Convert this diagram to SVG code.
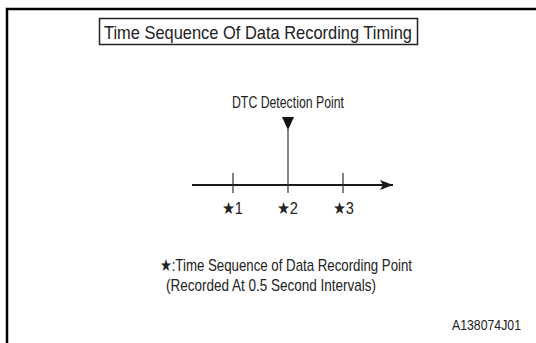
<svg xmlns="http://www.w3.org/2000/svg" width="536" height="343" viewBox="0 0 536 343">
  <style>
    text { font-family: "Liberation Sans", Arial, sans-serif; fill: #222; }
    .ttl { font-size: 19px; }
    .lbl { font-size: 17px; }
    .code { font-size: 14px; }
    .frame { fill: none; stroke: #000; stroke-width: 2.5; }
    .thin { stroke: #333; stroke-width: 1.2; fill: none; }
    .axis { stroke: #1a1a1a; stroke-width: 2.2; fill: none; }
  </style>
  <defs>
    <marker id="arrow" viewBox="0 0 13 10" refX="13" refY="5" markerWidth="13" markerHeight="10" markerUnits="userSpaceOnUse" orient="auto">
      <path d="M0,0 L13,5 L0,10 L3,5 Z" fill="#1a1a1a"/>
    </marker>
  </defs>

  <!-- page frame (open at right and bottom) -->
  <path class="frame" d="M7,343 V9 H536"/>

  <g id="title">
    <rect x="99.5" y="18.5" width="318" height="26" fill="#fff" stroke="#222" stroke-width="1.5"/>
    <text class="ttl" x="104" y="38.5" textLength="308" lengthAdjust="spacingAndGlyphs">Time Sequence Of Data Recording Timing</text>
  </g>

  <g id="dtc-point">
    <text class="lbl" x="232" y="108" textLength="112" lengthAdjust="spacingAndGlyphs">DTC Detection Point</text>
    <path d="M282,117 L294,117 L288,130 Z" fill="#111"/>
  </g>

  <g id="connectors">
    <line class="axis" x1="192" y1="185" x2="393" y2="185" marker-end="url(#arrow)"/>
    <line class="thin" x1="288" y1="129" x2="288" y2="193"/>
    <line class="thin" x1="233" y1="173" x2="233" y2="193"/>
    <line class="thin" x1="343" y1="173" x2="343" y2="193"/>
  </g>

  <g id="point-1"><text class="lbl" x="222" y="214" textLength="21" lengthAdjust="spacingAndGlyphs">★1</text></g>
  <g id="point-2"><text class="lbl" x="277" y="214" textLength="21" lengthAdjust="spacingAndGlyphs">★2</text></g>
  <g id="point-3"><text class="lbl" x="333" y="214" textLength="21" lengthAdjust="spacingAndGlyphs">★3</text></g>

  <g id="legend">
    <text class="lbl" x="160" y="271" textLength="252" lengthAdjust="spacingAndGlyphs">★:Time Sequence of Data Recording Point</text>
    <text class="lbl" x="166" y="291" textLength="210" lengthAdjust="spacingAndGlyphs">(Recorded At 0.5 Second Intervals)</text>
  </g>

  <g id="code">
    <text class="code" x="452" y="330" textLength="69" lengthAdjust="spacingAndGlyphs">A138074J01</text>
  </g>
</svg>
